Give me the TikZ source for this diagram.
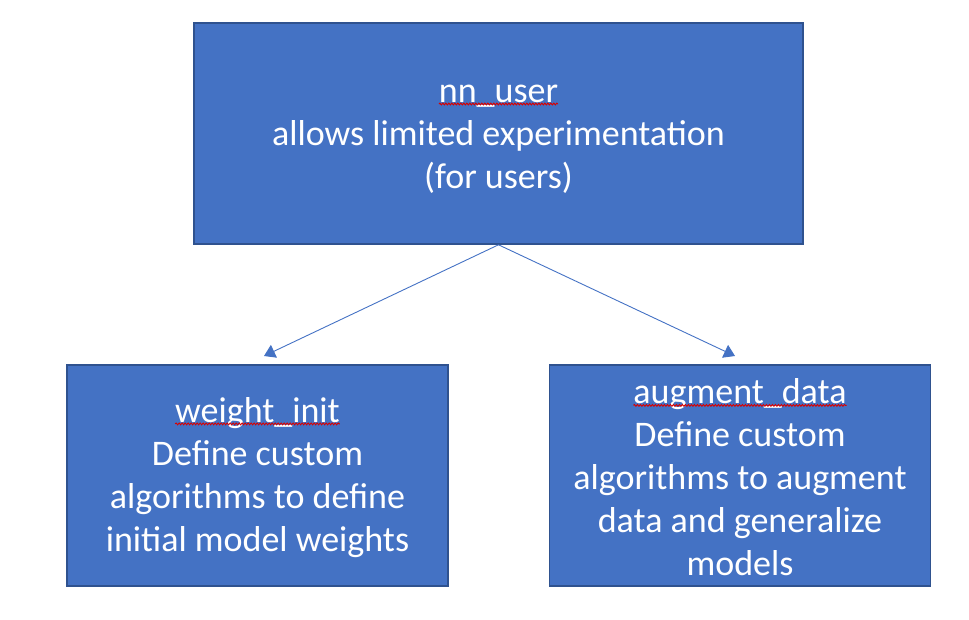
\documentclass[tikz,border=0pt]{standalone}
\usepackage{fontspec}
\setmainfont{Carlito}
\usetikzlibrary{positioning, arrows.meta, decorations.pathmorphing}
\definecolor{boxblue}{HTML}{4472C4}
\definecolor{boxedge}{HTML}{2F528F}
\newcommand\spellmark[1]{\rule{0pt}{29pt}\tikz[baseline=(sw.base)]{\node[draw=none, fill=none, minimum width=0pt, minimum height=0pt,
      inner sep=0pt, outer sep=0pt, text=white] (sw) {#1};
    \draw[red!85!black, line width=0.9pt, decorate, decoration={snake, amplitude=0.9pt, segment length=3pt}]
    ([yshift=-1.5pt]sw.base west) -- ([yshift=-1.5pt]sw.base east);}}

\begin{document}
\begin{tikzpicture}[x=1pt, y=1pt]
    \tikzstyle{box}=[draw=boxedge, line width=1.6pt, fill=boxblue, text=white, align=center, rectangle,
      minimum width=381pt, minimum height=221pt, inner sep=0pt, font=\fontsize{36}{43}\selectfont];
    \tikzstyle{link}=[draw=boxblue, line width=0.9pt, -{Triangle[width=14pt, length=11pt, fill=boxblue]}];
    \useasboundingbox (0,0) rectangle (969,619);
    \node[box, minimum width=609pt] (user) at (498.5,485.5) {\spellmark{nn\_user}\\allows limited experimentation\\(for users)};
    \node[box] (winit) at (257.5,143.5) {\spellmark{weight\_init}\\Define custom\\algorithms to define\\initial model weights};
    \node[box] (augment) at (740,143.5) {\spellmark{augment\_data}\\Define custom\\algorithms to augment\\data and generalize\\models};
    \coordinate (wtip) at (264,263);
    \coordinate (atip) at (735,263);

    \draw[link] (user.south) -- (wtip);
    \draw[link] (user.south) -- (atip);
  \end{tikzpicture}
\end{document}
